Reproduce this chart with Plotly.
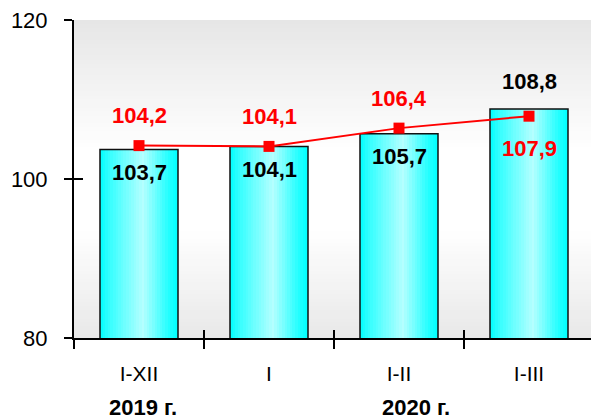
import plotly.graph_objects as go

# ---- data ----
categories = ["I-XII", "I", "I-II", "I-III"]
bar_values = [103.7, 104.1, 105.7, 108.8]
line_values = [104.2, 104.1, 106.4, 107.9]
year_labels = ["2019 г.", "2020 г."]
y_ticks = [80, 100, 120]

# ---- style ----
FONT = "Liberation Sans, Arial, sans-serif"
L, T, W, H = 74, 20, 591, 420
PLOT_BOTTOM = 338
plot_w = W - L
plot_h = PLOT_BOTTOM - T
cat_px = 130.0
x_range = [-0.5, -0.5 + plot_w / cat_px]
bar_width = 0.6

bar_label_shift = [-23, -23, -23, 28]
line_label_shift = [30, 30, 30, -32]


def hex2rgb(h):
    h = h.lstrip("#")
    return [int(h[i:i + 2], 16) for i in (0, 2, 4)]


def interp(stops, t):
    for (t0, c0), (t1, c1) in zip(stops, stops[1:]):
        if t0 <= t <= t1:
            f = 0 if t1 == t0 else (t - t0) / (t1 - t0)
            a, b = hex2rgb(c0), hex2rgb(c1)
            r = [round(a[k] + (b[k] - a[k]) * f) for k in range(3)]
            return "rgb(%d,%d,%d)" % tuple(r)
    return stops[-1][1]


bar_stops = [(0.0, "#00ffff"), (0.1, "#2effff"), (0.55, "#b4ffff"),
             (0.88, "#22ffff"), (1.0, "#00ffff")]
bg_stops = [(0.0, "#e8e8e8"), (0.34, "#ffffff"), (0.59, "#ffffff"), (1.0, "#e6e6e6")]

fig = go.Figure()

# gradient bars built from overlapping strips
N = 30
for i in range(N):
    off = -bar_width / 2 + i * bar_width / N
    fig.add_trace(go.Bar(
        x=categories, y=bar_values,
        offset=off, width=bar_width - i * bar_width / N,
        marker=dict(color=interp(bar_stops, (i + 0.5) / N), line=dict(width=0)),
        showlegend=False, hoverinfo="skip"))

# outline
fig.add_trace(go.Bar(
    x=categories, y=bar_values, offset=-bar_width / 2, width=bar_width,
    marker=dict(color="rgba(0,0,0,0)", line=dict(color="#111111", width=1.5)),
    showlegend=False, hoverinfo="skip"))

# red line
fig.add_trace(go.Scatter(
    x=categories, y=line_values, mode="lines+markers",
    line=dict(color="#ff0000", width=2),
    marker=dict(symbol="square", size=11, color="#ff0000"),
    showlegend=False, hoverinfo="skip"))

# invisible trace for overlay axes
fig.add_trace(go.Scatter(x=[None], y=[None], xaxis="x2", yaxis="y2",
                         showlegend=False, hoverinfo="skip"))


def fmt(v):
    return "<b>" + f"{v:.1f}".replace(".", ",") + "</b>"


ann = []
for c, v, s in zip(categories, bar_values, bar_label_shift):
    ann.append(dict(x=c, y=v, xref="x", yref="y", text=fmt(v), showarrow=False,
                    yshift=s, font=dict(family=FONT, size=22, color="#000000")))
for c, v, s in zip(categories, line_values, line_label_shift):
    ann.append(dict(x=c, y=v, xref="x", yref="y", text=fmt(v), showarrow=False,
                    yshift=s, font=dict(family=FONT, size=22, color="#ff0000")))
for lbl, px in zip(year_labels, [143, 416]):
    ann.append(dict(x=(px - L) / plot_w, y=(PLOT_BOTTOM - 407) / plot_h,
                    xref="paper", yref="paper", text="<b>%s</b>" % lbl,
                    showarrow=False, xanchor="center", yanchor="middle",
                    font=dict(family=FONT, size=22, color="#000000")))

# background gradient bands
shapes = []
NB = 80
for i in range(NB):
    y0 = i / NB
    shapes.append(dict(type="rect", xref="x domain", yref="y domain",
                       x0=0, x1=1, y0=y0, y1=1, layer="below",
                       fillcolor=interp(bg_stops, (i + 0.5) / NB), line=dict(width=0)))

fig.update_layout(
    width=W, height=H,
    margin=dict(l=L, r=0, t=T, b=H - PLOT_BOTTOM, pad=0),
    paper_bgcolor="white", plot_bgcolor="white",
    barmode="overlay", bargap=0,
    font=dict(family=FONT, color="#000000"),
    annotations=ann, shapes=shapes,
    hovermode=False,
    xaxis=dict(type="category", categoryorder="array", categoryarray=categories,
               range=x_range, tickson="boundaries", ticks="outside", ticklen=9,
               tickwidth=2, tickcolor="#000", showline=True, linecolor="#000",
               linewidth=2, showgrid=False, zeroline=False,
               tickfont=dict(family=FONT, size=21), ticklabelstandoff=16,
               fixedrange=True),
    yaxis=dict(range=[80, 120], tickvals=y_ticks, ticks="outside", ticklen=8,
               tickwidth=2, tickcolor="#000", showline=True, linecolor="#000",
               linewidth=2, showgrid=False, zeroline=False,
               tickfont=dict(family=FONT, size=22), ticklabelstandoff=12,
               fixedrange=True),
    xaxis2=dict(overlaying="x", anchor="y", side="bottom", range=x_range,
                tickvals=[-0.5, 0.5, 1.5, 2.5], ticks="inside", ticklen=8,
                tickwidth=2, tickcolor="#000", showticklabels=False,
                showline=False, showgrid=False, zeroline=False, fixedrange=True),
    yaxis2=dict(overlaying="y", anchor="x", side="left", range=[80, 120],
                tickvals=y_ticks, ticks="inside", ticklen=9, tickwidth=2,
                tickcolor="#000", showticklabels=False, showline=False,
                showgrid=False, zeroline=False, fixedrange=True),
)

fig.write_html("out.html", config={"displayModeBar": False, "staticPlot": True},
               post_script="document.body.style.margin='0';document.body.style.overflow='hidden';")
